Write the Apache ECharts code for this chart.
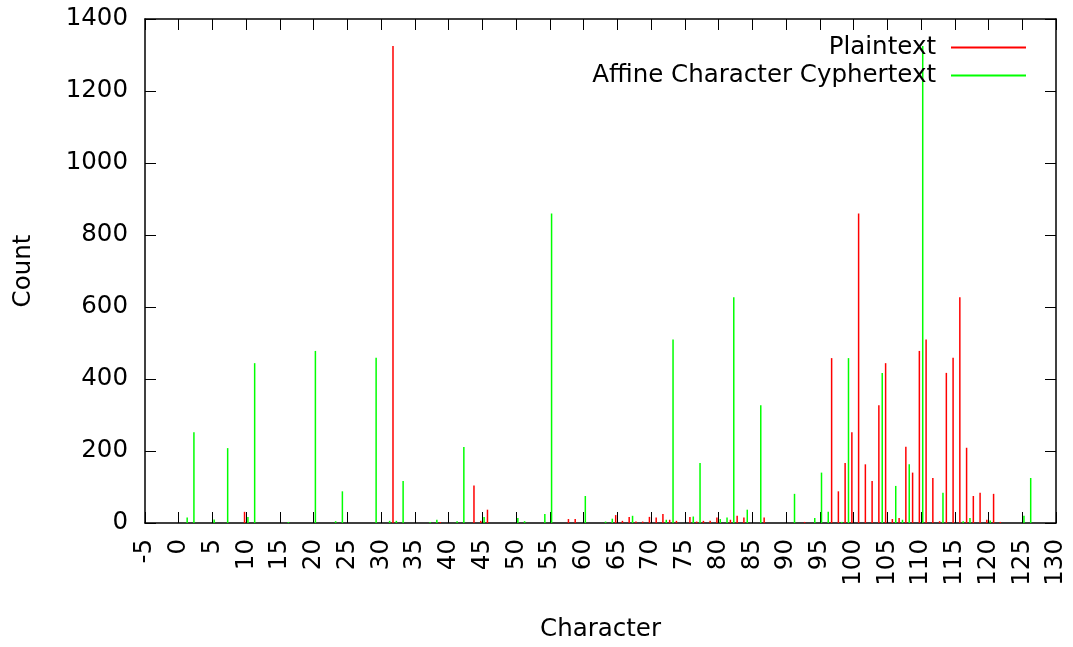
<!DOCTYPE html>
<html>
<head>
<meta charset="utf-8">
<script src="https://cdn.jsdelivr.net/npm/echarts@6/dist/echarts.min.js"></script>
<style>html,body{margin:0;padding:0;background:#fff;}#chart{width:1073px;height:647px;}</style>
</head>
<body>
<div id="chart"></div>
<script>
// Plaintext character codes and counts
const plainChars = [10, 32, 39, 44, 45, 46, 58, 59, 65, 66, 67, 68, 69, 70, 71, 72, 73, 74, 76, 77, 78, 79, 80, 82, 83, 84, 87, 93,
  97, 98, 99, 100, 101, 102, 103, 104, 105, 106, 107, 108, 109, 110, 111, 112, 113, 114, 115, 116, 117, 118, 119, 120, 121, 122];
const plainCounts = [31, 1325, 3, 104, 6, 37, 11, 11, 22, 6, 17, 4, 4, 17, 15, 25, 9, 6, 17, 4, 6, 6, 15, 9, 20, 15, 15, 3,
  458, 88, 167, 252, 860, 163, 117, 327, 444, 11, 14, 212, 140, 478, 510, 125, 5, 417, 459, 627, 209, 75, 84, 9, 81, 3];
// Affine cyphertext character codes and counts
const cypherChars = [1, 2, 5, 7, 10, 11, 16, 20, 23, 24, 29, 31, 32, 33, 37, 38, 41, 42, 45, 50, 51, 54, 55, 60, 63, 64, 67, 72,
  73, 76, 77, 80, 81, 82, 84, 86, 91, 94, 95, 96, 98, 99, 104, 106, 107, 108, 110, 113, 116, 117, 120, 125, 126];
const cypherCounts = [15, 252, 10, 208, 17, 444, 3, 478, 5, 88, 459, 6, 6, 117, 3, 9, 5, 211, 17, 14, 5, 25, 860, 75, 4, 12, 20, 9,
  510, 18, 167, 11, 15, 627, 37, 327, 81, 14, 140, 31, 3, 458, 417, 103, 9, 163, 1325, 84, 5, 14, 7, 20, 125];
const xTicks = {min: -5, max: 130, step: 5};
const yTicks = {min: 0, max: 1400, step: 200};
const seriesNames = ['Plaintext', 'Affine Character Cyphertext'];

const FONT = 'DejaVu Sans';
const FS = 24.5;

function impulse(color) {
  return function (params, api) {
    const x = api.value(0), y = api.value(1);
    const p0 = api.coord([x, 0]);
    const p1 = api.coord([x, y]);
    return {type: 'line', shape: {x1: p0[0], y1: p0[1], x2: p1[0], y2: p1[1]},
      style: {stroke: color, lineWidth: 1.5}};
  };
}

const chart = echarts.init(document.getElementById('chart'), null, {renderer: 'canvas'});
const axisCommon = {
  axisLine: {show: true, onZero: false, lineStyle: {color: '#000', width: 1.5}},
  axisTick: {show: true, inside: true, length: 11, lineStyle: {color: '#000', width: 1}},
  splitLine: {show: false}
};
chart.setOption({
  animation: false,
  backgroundColor: '#fff',
  grid: {left: 145, right: 17, top: 19, bottom: 123},
  legend: {
    orient: 'vertical', align: 'right', right: 42, top: 30,
    itemWidth: 75, itemHeight: 2, itemGap: 3, icon: 'rect',
    textStyle: {fontFamily: FONT, fontSize: FS, color: '#000', lineHeight: 25, padding: [0, 10, 0, 0]},
    data: seriesNames
  },
  xAxis: [
    Object.assign({type: 'value', position: 'bottom', min: xTicks.min, max: xTicks.max, interval: xTicks.step,
      name: 'Character', nameLocation: 'middle', nameGap: 94,
      nameTextStyle: {fontFamily: FONT, fontSize: FS, color: '#000'},
      axisLabel: {rotate: 90, margin: 16, fontFamily: FONT, fontSize: FS, color: '#000', showMinLabel: true, showMaxLabel: true,
        formatter: v => String(v)}}, axisCommon),
    Object.assign({type: 'value', position: 'top', min: xTicks.min, max: xTicks.max, interval: xTicks.step,
      axisLabel: {show: false}}, axisCommon)
  ],
  yAxis: [
    Object.assign({type: 'value', position: 'left', min: yTicks.min, max: yTicks.max, interval: yTicks.step,
      name: 'Count', nameLocation: 'middle', nameGap: 109, nameRotate: 90,
      nameTextStyle: {fontFamily: FONT, fontSize: FS, color: '#000'},
      axisLabel: {margin: 17, fontFamily: FONT, fontSize: FS, color: '#000', formatter: v => String(v)}}, axisCommon),
    Object.assign({type: 'value', position: 'right', min: yTicks.min, max: yTicks.max, interval: yTicks.step,
      axisLabel: {show: false}}, axisCommon)
  ],
  series: [
    {name: seriesNames[0], type: 'custom', xAxisIndex: 0, yAxisIndex: 0, itemStyle: {color: '#ff0000'},
      renderItem: impulse('#ff0000'), clip: true,
      data: plainChars.map((c, i) => [c - 0.25, plainCounts[i]])},
    {name: seriesNames[1], type: 'custom', xAxisIndex: 0, yAxisIndex: 0, itemStyle: {color: '#00ff00'},
      renderItem: impulse('#00ff00'), clip: true,
      data: cypherChars.map((c, i) => [c + 0.25, cypherCounts[i]])}
  ]
});
</script>
</body>
</html>
